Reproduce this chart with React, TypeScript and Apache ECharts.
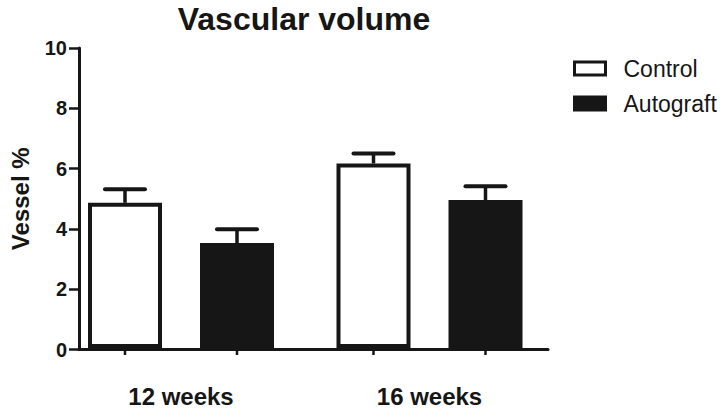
import React, { useEffect, useRef } from "react";
import * as echarts from "echarts";

const categories = ["12 weeks", "16 weeks"];
const seriesNames = ["Control", "Autograft"];
const controlMean = [4.84, 6.15];
const controlUpper = [5.29, 6.48];
const autograftMean = [3.5, 4.93];
const autograftUpper = [3.96, 5.39];
const yMin = 0;
const yMax = 10;
const yInterval = 2;

const INK = "#161616";
const FONT = "'Liberation Sans', Arial, Helvetica, sans-serif";
const BAR_W = 74;
const BAR_GAP = 38; // px between bars in a group
const OFFSET = (BAR_W + BAR_GAP) / 2;

function errorSeries(name: string, means: number[], uppers: number[], offset: number) {
  return {
    type: "custom",
    name: name + " error",
    xAxisIndex: 1,
    yAxisIndex: 1,
    z: 5,
    clip: false,
    data: means.map((m, i) => [i, m, uppers[i]]),
    renderItem: (_params: any, api: any) => {
      const idx = api.value(0);
      const top = api.coord([idx, api.value(1)]);
      const up = api.coord([idx, api.value(2)]);
      const base = api.coord([idx, 0]);
      const x = top[0] + offset;
      return {
        type: "group",
        children: [
          {
            type: "line",
            shape: { x1: x, y1: top[1], x2: x, y2: up[1] },
            style: { stroke: INK, lineWidth: 3.5 },
          },
          {
            type: "line",
            shape: { x1: x - 20, y1: up[1], x2: x + 20, y2: up[1] },
            style: { stroke: INK, lineWidth: 4, lineCap: "round" },
          },
          {
            type: "line",
            shape: { x1: x, y1: base[1], x2: x, y2: base[1] + 7 },
            style: { stroke: INK, lineWidth: 2.5 },
          },
        ],
      };
    },
  };
}

export default function App() {
  const ref = useRef<HTMLDivElement>(null);
  useEffect(() => {
    if (!ref.current) return;
    const chart = echarts.init(ref.current, null, { renderer: "svg" });
    const top = 48;
    const bottom = 58.5;
    chart.setOption({
      animation: false,
      backgroundColor: "#ffffff",
      textStyle: { fontFamily: FONT },
      title: {
        text: "Vascular volume",
        left: 304,
        top: 2,
        textAlign: "center",
        padding: 0,
        textStyle: { fontFamily: FONT, fontSize: 32, fontWeight: "bold", color: INK, lineHeight: 34 },
      },
      legend: {
        orient: "vertical",
        left: 573,
        top: 57,
        padding: 0,
        itemWidth: 31,
        itemHeight: 13,
        itemGap: 12,
        data: [
          { name: seriesNames[0], icon: "rect", itemStyle: { color: "#ffffff", borderColor: INK, borderWidth: 3 } },
          { name: seriesNames[1], icon: "rect", itemStyle: { color: INK, borderColor: INK, borderWidth: 3 } },
        ],
        textStyle: { fontFamily: FONT, fontSize: 23, color: INK, padding: [0, 0, 0, 13] },
      },
      grid: [
        // frame grid: visible axes
        { left: 69, right: 175, top, bottom },
        // data grid: bars and category labels
        { left: 56.75, right: 169.25, top, bottom },
      ],
      xAxis: [
        {
          type: "category",
          gridIndex: 0,
          data: categories,
          axisLine: { lineStyle: { color: INK, width: 3 } },
          axisTick: { show: false },
          axisLabel: { show: false },
        },
        {
          type: "category",
          gridIndex: 1,
          data: categories,
          axisLine: { show: false },
          axisTick: { show: false },
          axisLabel: { fontFamily: FONT, fontSize: 24, fontWeight: "bold", color: INK, margin: 36 },
        },
      ],
      yAxis: [
        {
          type: "value",
          gridIndex: 0,
          min: yMin,
          max: yMax,
          interval: yInterval,
          name: "Vessel %",
          nameLocation: "middle",
          nameRotate: 90,
          nameGap: 47,
          nameTextStyle: { fontFamily: FONT, fontSize: 24, fontWeight: "bold", color: INK },
          axisLine: { show: true, lineStyle: { color: INK, width: 3 } },
          axisTick: { show: true, length: 10, lineStyle: { color: INK, width: 2.5 } },
          axisLabel: { fontFamily: FONT, fontSize: 20, fontWeight: "bold", color: INK, margin: 12 },
          splitLine: { show: false },
        },
        {
          type: "value",
          gridIndex: 1,
          min: yMin,
          max: yMax,
          interval: yInterval,
          show: false,
          splitLine: { show: false },
        },
      ],
      series: [
        {
          type: "bar",
          name: seriesNames[0],
          xAxisIndex: 1,
          yAxisIndex: 1,
          data: controlMean,
          barWidth: BAR_W,
          barGap: (BAR_GAP / BAR_W) * 100 + "%",
          itemStyle: { color: "#ffffff", borderColor: INK, borderWidth: 4 },
        },
        {
          type: "bar",
          name: seriesNames[1],
          xAxisIndex: 1,
          yAxisIndex: 1,
          data: autograftMean,
          barWidth: BAR_W,
          barGap: (BAR_GAP / BAR_W) * 100 + "%",
          itemStyle: { color: INK, borderColor: INK, borderWidth: 4 },
        },
        errorSeries(seriesNames[0], controlMean, controlUpper, -OFFSET),
        errorSeries(seriesNames[1], autograftMean, autograftUpper, OFFSET),
      ],
    });
    return () => chart.dispose();
  }, []);
  return <div ref={ref} style={{ width: 723, height: 408, position: "absolute", left: 0, top: 0 }} />;
}
